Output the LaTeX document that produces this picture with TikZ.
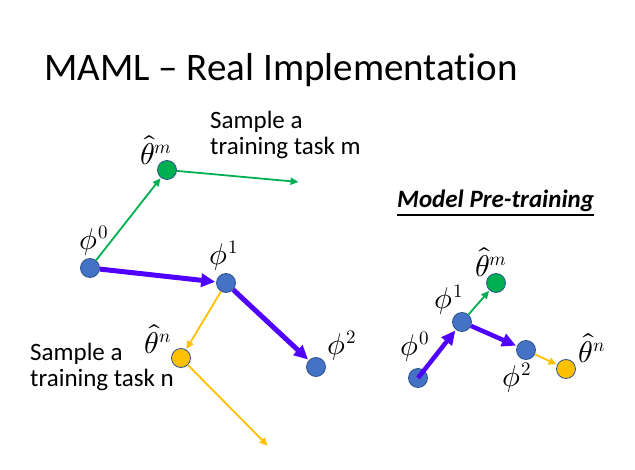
\documentclass[tikz,border=0pt]{standalone}
\usepackage{fontspec}
\usepackage{unicode-math}
\setmainfont{Carlito}[Ligatures=NoCommon]
\setmathfont{Latin Modern Math}
\usetikzlibrary{arrows.meta}
% superscript set at a fixed, larger size
\newcommand{\bigsup}[1]{^{\hbox{\fontsize{19}{22}\selectfont$#1$}}}
\definecolor{dotblue}{HTML}{4472C4}
\definecolor{dotedge}{HTML}{2F528F}
\definecolor{stepgreen}{HTML}{00B050}
\definecolor{stepyellow}{HTML}{FFC000}
\definecolor{updblue}{HTML}{5000FF}
\tikzset{
  dot/.style={circle, draw=dotedge, line width=0.8pt, minimum size=19pt, inner sep=0pt},
  bdot/.style={dot, fill=dotblue},
  gdot/.style={dot, fill=stepgreen},
  ydot/.style={dot, fill=stepyellow},
  sym/.style={font=\fontsize{30}{34}\selectfont, inner sep=0pt},
  note/.style={font=\fontsize{25}{26}\selectfont, align=left, inner sep=0pt, anchor=north west},
  thinarrow/.style={line width=1.8pt, -{Triangle[length=8pt,width=7pt]}, shorten >=0.5pt},
  updarrow/.style={updblue, line width=5pt, -{Triangle[length=14pt,width=13pt]}, shorten >=1pt},
}
\begin{document}
\begin{tikzpicture}[x=1pt,y=-1pt]
\useasboundingbox (0,0) rectangle (635,470);
\fill[white] (0,0) rectangle (635,470);

% title
\node[anchor=west, inner sep=0pt, font=\fontsize{39}{45}\selectfont] (title) at (44,70) {MAML -- Real Implementation};

% ---- left: MAML steps ----
\node[bdot] (p0) at (90,268) {};
\node[gdot] (tm) at (167,170) {};
\node[bdot] (p1) at (226,283) {};
\node[bdot] (p2) at (316,367) {};
\node[ydot] (tn) at (181,358) {};
\coordinate (gm) at (299,182);
\coordinate (yn) at (268,446);

\draw[thinarrow, stepgreen] (p0) -- (tm);
\draw[thinarrow, stepgreen] (tm) -- (gm);
\draw[thinarrow, stepyellow] (p1) -- (tn);
\draw[thinarrow, stepyellow] (tn) -- (yn);
\draw[updarrow] (p0) -- (p1);
\draw[updarrow] (p1) -- (p2);

\node[sym] (lp0) at (94,241) {$\phi\bigsup{0}$};
\node[sym] (ltm) at (156,150) {$\hat{\theta}\bigsup{m}$};
\node[sym] (lp1) at (224,256) {$\phi\bigsup{1}$};
\node[sym] (ltn) at (158,339) {$\hat{\theta}\bigsup{n}$};
\node[sym] (lp2) at (342,346) {$\phi\bigsup{2}$};

\node[note] (sm) at (210,111) {Sample a\\training task m};
\node[note] (sn) at (30,343) {Sample a\\training task n};

% ---- right: model pre-training ----
\node[anchor=west, inner sep=0pt, font=\fontsize{25}{29}\selectfont\bfseries\itshape] (mp) at (397,201) {Model Pre-training};
\draw[line width=1.5pt] (mp.south west) ++(0,3) coordinate (ul1) -- (mp.south east |- ul1);

\node[bdot] (q0) at (418,378) {};
\node[bdot] (q1) at (462,322) {};
\node[gdot] (qm) at (496,283) {};
\node[bdot] (q2) at (526,350) {};
\node[ydot] (qn) at (566,369) {};

\draw[thinarrow, stepgreen] (q1) -- (qm);
\draw[thinarrow, stepyellow] (q2) -- (qn);
\draw[updarrow, line width=4.5pt] (q0.center) -- (q1);
\draw[updarrow, line width=4.5pt] (q1) -- (q2);

\node[sym] (rq0) at (415,347) {$\phi\bigsup{0}$};
\node[sym] (rq1) at (449,300) {$\phi\bigsup{1}$};
\node[sym] (rqm) at (491,262) {$\hat{\theta}\bigsup{m}$};
\node[sym] (rq2) at (517,378) {$\phi\bigsup{2}$};
\node[sym] (rqn) at (592,348) {$\hat{\theta}\bigsup{n}$};
\end{tikzpicture}
\end{document}
